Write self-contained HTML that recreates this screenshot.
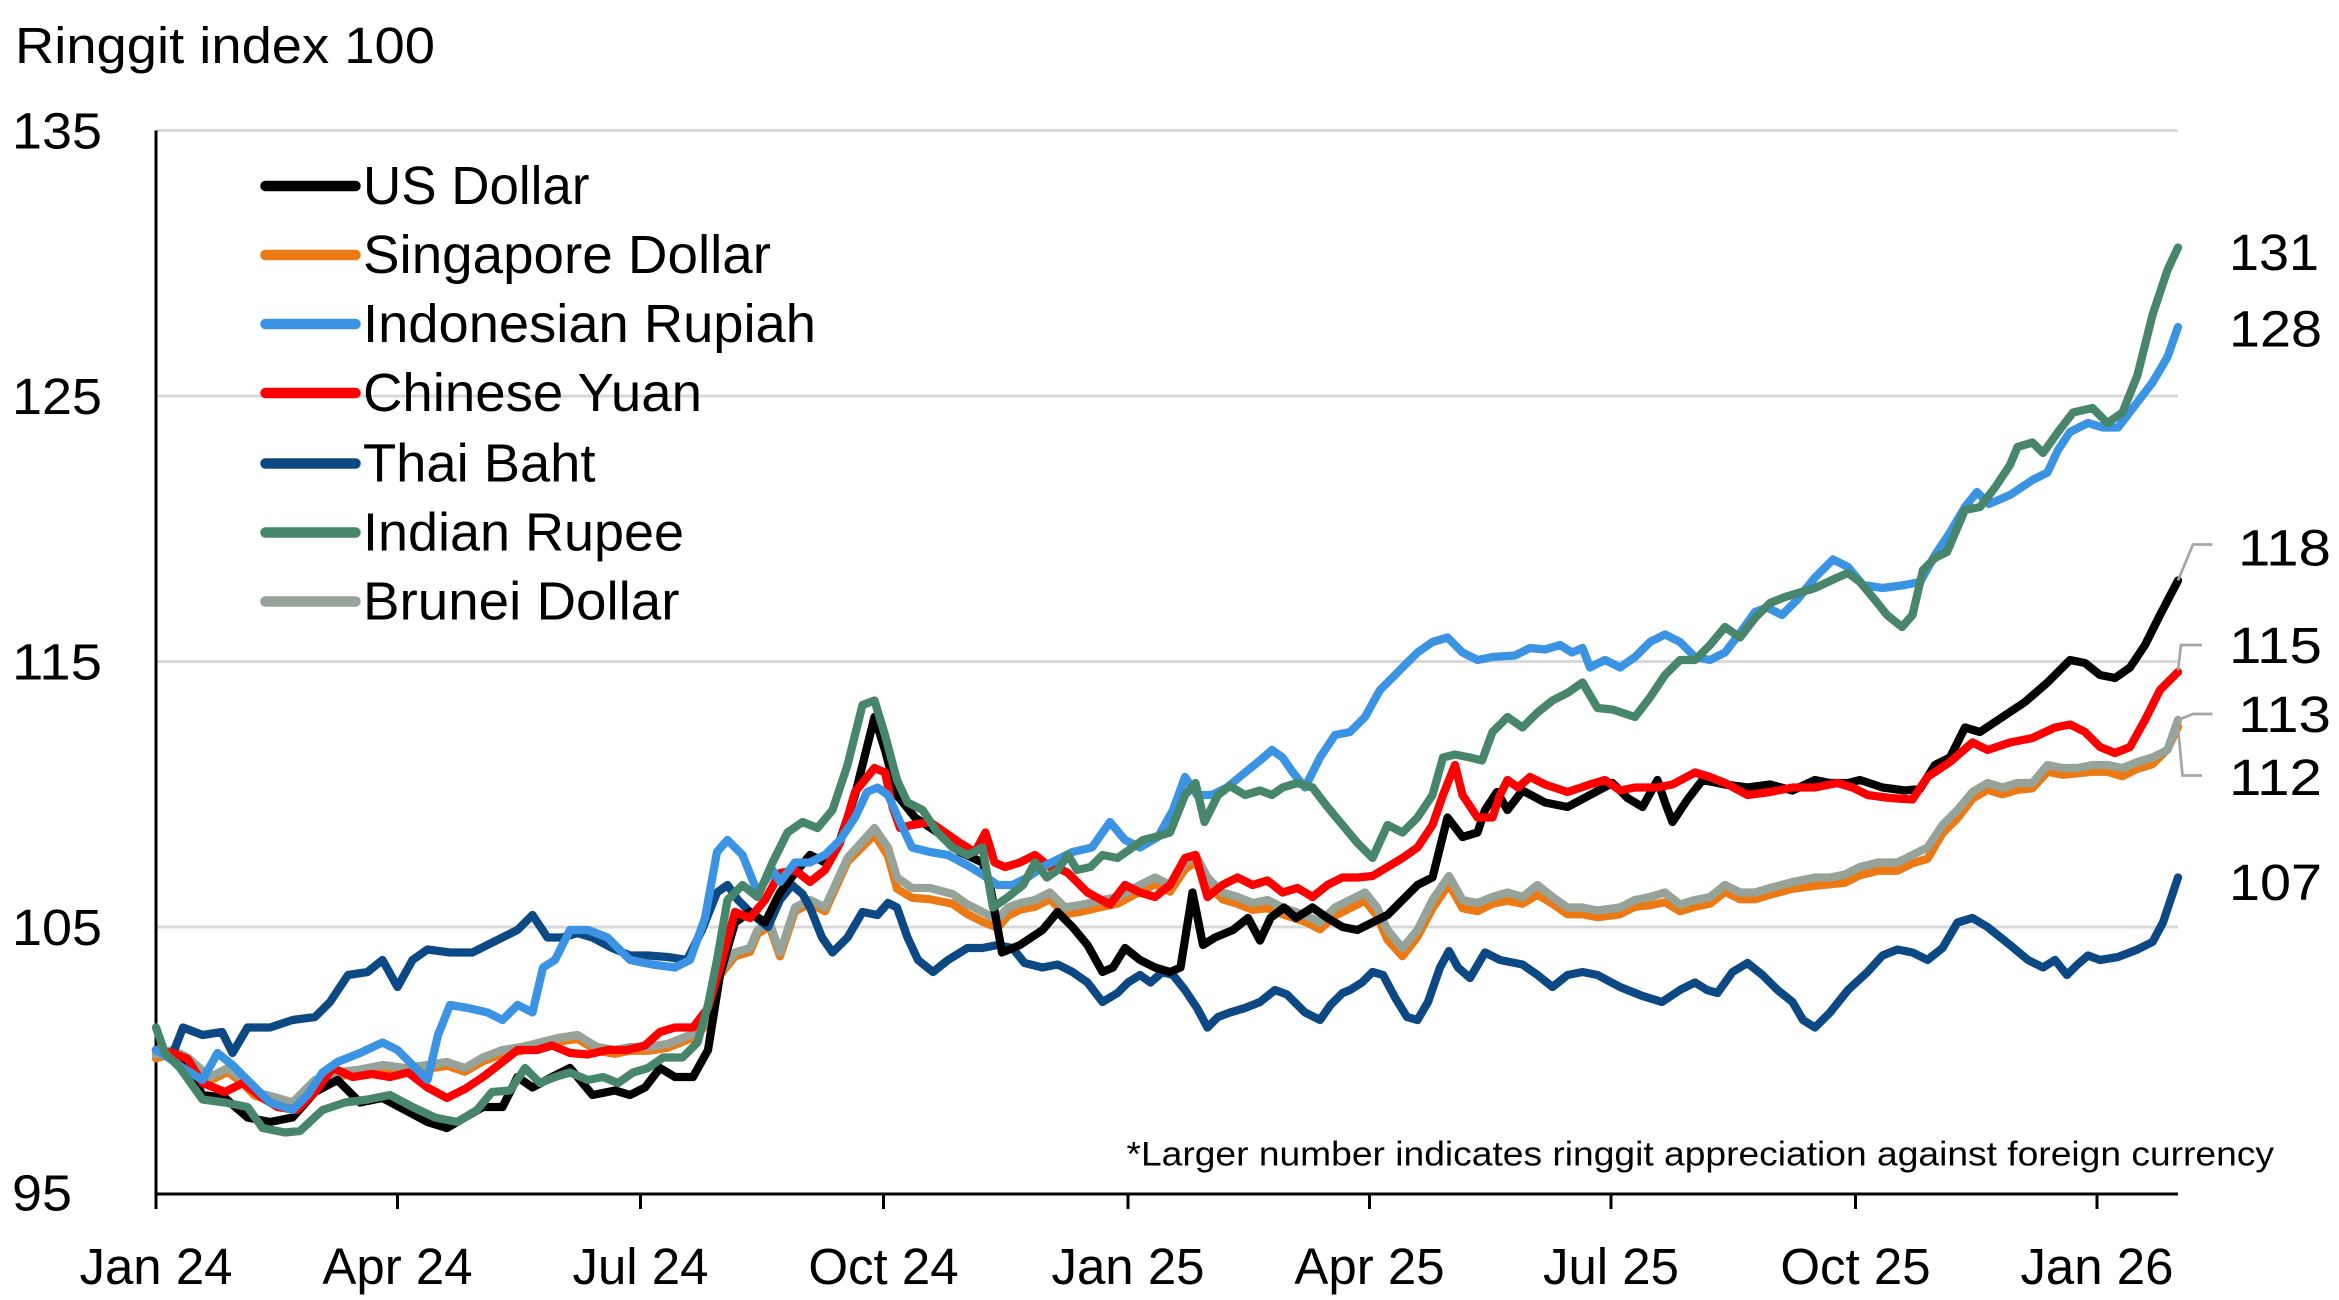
<!DOCTYPE html>
<html><head><meta charset="utf-8"><style>html,body{margin:0;padding:0;background:#fff}svg{display:block}</style></head>
<body>
<svg width="2339" height="1300" viewBox="0 0 1559.33 866.67" xmlns="http://www.w3.org/2000/svg" font-family="'Liberation Sans', sans-serif" fill="#000">
<rect width="1560" height="867" fill="#fff"/>
<g stroke="#d9d9d9" stroke-width="2">
<line x1="104" y1="87" x2="1452" y2="87"/><line x1="104" y1="264" x2="1452" y2="264"/><line x1="104" y1="441" x2="1452" y2="441"/><line x1="104" y1="618" x2="1452" y2="618"/>
</g>
<g stroke="#000" stroke-width="2">
<line x1="104" y1="87" x2="104" y2="796"/><line x1="104" y1="796" x2="1452" y2="796"/>
<line x1="104" y1="796" x2="104" y2="806"/><line x1="265" y1="796" x2="265" y2="806"/><line x1="427" y1="796" x2="427" y2="806"/><line x1="589" y1="796" x2="589" y2="806"/><line x1="752" y1="796" x2="752" y2="806"/><line x1="913" y1="796" x2="913" y2="806"/><line x1="1074" y1="796" x2="1074" y2="806"/><line x1="1237" y1="796" x2="1237" y2="806"/><line x1="1398" y1="796" x2="1398" y2="806"/>
</g>
<text x="10" y="42" font-size="34" textLength="280" lengthAdjust="spacingAndGlyphs">Ringgit index 100</text>
<g font-size="34">
<text x="8" y="99" textLength="60" lengthAdjust="spacingAndGlyphs">135</text>
<text x="8" y="276" textLength="60" lengthAdjust="spacingAndGlyphs">125</text>
<text x="8" y="453" textLength="60" lengthAdjust="spacingAndGlyphs">115</text>
<text x="8" y="630" textLength="60" lengthAdjust="spacingAndGlyphs">105</text>
<text x="8" y="807" textLength="40" lengthAdjust="spacingAndGlyphs">95</text>
</g>
<g font-size="34" text-anchor="middle">
<text x="104" y="856">Jan 24</text><text x="265" y="856">Apr 24</text><text x="427" y="856">Jul 24</text><text x="589" y="856">Oct 24</text><text x="752" y="856">Jan 25</text><text x="913" y="856">Apr 25</text><text x="1074" y="856">Jul 25</text><text x="1237" y="856">Oct 25</text><text x="1398" y="856">Jan 26</text>
</g>
<text x="1516" y="777" font-size="23" text-anchor="end" textLength="765" lengthAdjust="spacingAndGlyphs">*Larger number indicates ringgit appreciation against foreign currency</text>
<g fill="none" stroke-width="5.5" stroke-linejoin="round" stroke-linecap="round">
<polyline stroke="#ec7a14" transform="translate(0,2.5)" points="104,703 115,700 125,705 140,718 152,712 162,720 170,728 185,732 195,735 210,720 225,715 240,713 255,710 270,712 285,710 298,708 310,712 322,705 335,700 348,698 360,695 372,692 385,690 398,698 410,700 420,698 432,698 445,696 460,690 470,682 478,650 490,635 500,632 505,620 513,615 520,635 530,605 540,600 550,605 565,572 583,554 592,568 598,590 608,596 620,597 635,600 645,607 655,612 665,616 672,608 680,604 690,602 700,597 710,607 722,605 735,602 745,600 760,592 770,587 780,592 790,577 797,572 805,587 815,597 825,600 835,604 845,603 855,607 870,612 880,617 890,608 900,603 910,598 918,608 925,624 935,635 945,622 955,603 966,587 975,603 985,605 995,600 1005,598 1015,600 1025,594 1035,600 1045,607 1055,607 1065,609 1080,607 1090,602 1100,601 1110,599 1120,605 1130,602 1140,600 1150,592 1160,597 1170,597 1180,594 1195,590 1210,588 1220,587 1230,586 1240,581 1252,578 1265,578 1275,573 1285,570 1295,553 1305,543 1315,530 1325,524 1335,527 1345,524 1355,523 1365,512 1375,514 1385,513 1395,512 1405,512 1415,515 1425,510 1435,507 1445,497 1452,482"/>
<polyline stroke="#95a399" points="104,703 115,700 125,705 140,718 152,712 162,720 170,728 185,732 195,735 210,720 225,715 240,713 255,710 270,712 285,710 298,708 310,712 322,705 335,700 348,698 360,695 372,692 385,690 398,698 410,700 420,698 432,698 445,696 460,690 470,682 478,650 490,635 500,632 505,620 513,615 520,635 530,605 540,600 550,605 565,572 583,552 592,565 598,585 608,592 620,592 635,596 645,603 655,608 665,613 672,605 680,602 690,600 700,595 710,605 722,603 735,600 745,598 760,590 770,585 780,590 790,575 797,570 805,585 815,595 825,598 835,602 845,600 855,605 870,610 880,615 890,605 900,600 910,595 918,605 925,620 935,632 945,620 955,600 966,584 975,600 985,602 995,598 1005,595 1015,598 1025,590 1035,598 1045,605 1055,605 1065,607 1080,605 1090,600 1100,598 1110,595 1120,603 1130,600 1140,598 1150,590 1160,595 1170,595 1180,592 1195,588 1210,585 1220,585 1230,583 1240,578 1252,575 1265,575 1275,570 1285,565 1295,550 1305,540 1315,528 1325,522 1335,525 1345,522 1355,522 1365,510 1375,512 1385,512 1395,510 1405,510 1415,512 1425,508 1435,505 1445,500 1452,480"/>
<polyline stroke="#0b4884" points="104,700 115,703 122,685 135,690 148,688 155,702 165,685 180,685 195,680 210,678 220,668 232,650 245,648 255,640 265,658 275,640 285,633 300,635 315,635 325,630 335,625 345,620 355,610 365,625 375,625 385,622 395,625 408,632 420,637 432,637 445,638 458,640 468,620 478,595 485,590 492,600 502,610 512,618 520,600 528,590 535,596 540,605 548,625 555,635 565,625 575,608 585,610 592,602 598,605 605,625 612,640 622,648 632,640 645,632 655,632 665,630 675,632 683,642 695,645 705,643 715,648 725,655 735,668 745,662 752,655 760,650 767,655 775,648 782,650 790,660 798,672 805,685 812,678 820,675 830,672 840,668 850,660 858,663 865,670 870,675 880,680 887,670 895,662 900,660 908,655 915,648 922,650 930,665 938,678 945,680 952,668 960,645 966,634 972,645 980,652 990,635 1000,640 1015,643 1025,650 1035,658 1045,650 1055,648 1065,650 1080,658 1095,664 1108,668 1120,660 1130,655 1138,660 1145,662 1155,648 1165,642 1175,650 1185,660 1195,668 1202,680 1210,685 1220,675 1232,660 1245,648 1255,637 1265,633 1275,635 1285,640 1295,632 1305,615 1315,612 1325,618 1340,630 1352,640 1362,645 1370,640 1378,650 1385,643 1392,637 1400,640 1412,638 1425,633 1435,628 1442,615 1452,585"/>
<polyline stroke="#000" points="104,700 115,705 125,712 135,730 150,732 165,745 180,748 195,745 210,728 225,720 240,735 255,732 270,740 285,748 298,752 310,745 322,738 335,738 345,718 355,725 368,718 380,712 395,730 410,727 420,730 430,725 440,712 450,718 462,718 472,700 480,650 490,615 500,608 510,615 520,595 530,582 540,570 550,575 560,560 570,530 583,478 590,500 598,530 610,545 625,555 640,568 655,575 660,590 668,635 680,630 695,620 705,608 715,618 725,630 735,648 742,645 750,632 760,640 770,645 780,648 787,645 795,595 802,630 810,625 822,620 832,612 840,627 847,612 856,605 864,612 875,605 885,612 895,618 905,620 915,615 925,610 935,600 945,590 955,585 965,545 975,558 985,555 990,540 998,528 1005,540 1015,527 1030,535 1045,538 1060,530 1075,522 1085,532 1095,538 1105,520 1110,535 1115,548 1125,533 1135,520 1150,523 1165,525 1180,523 1195,527 1210,520 1220,522 1232,522 1240,520 1255,525 1270,527 1280,526 1290,510 1300,505 1310,485 1320,488 1335,478 1350,468 1365,455 1380,440 1390,442 1400,450 1410,452 1420,445 1430,430 1440,410 1452,387"/>
<polyline stroke="#ff0000" points="104,700 115,702 125,706 135,722 150,728 162,722 175,732 185,738 198,740 210,728 222,712 235,718 248,716 260,718 272,715 285,725 298,732 310,726 322,718 335,708 345,700 358,700 368,697 380,702 392,703 405,700 418,700 430,697 440,688 450,685 462,685 472,672 480,645 490,608 500,612 510,600 520,582 530,580 540,588 550,580 560,562 570,528 583,512 590,515 595,538 600,552 608,550 620,548 630,555 640,562 650,568 657,555 663,575 670,578 680,575 690,570 700,578 708,580 712,582 725,595 740,603 750,590 760,595 770,598 780,590 790,572 797,570 805,598 815,590 825,585 835,590 845,587 855,595 865,592 875,598 885,590 895,585 905,585 915,584 925,578 935,572 945,565 955,550 962,530 970,510 975,530 985,545 995,545 1000,530 1005,520 1012,525 1020,518 1030,523 1045,528 1060,523 1070,520 1080,527 1090,525 1105,525 1115,523 1130,515 1140,518 1150,522 1165,530 1180,528 1195,525 1210,525 1225,522 1235,525 1245,530 1260,532 1275,533 1285,518 1300,508 1315,495 1325,500 1340,495 1355,492 1370,485 1380,483 1390,488 1400,498 1410,502 1420,498 1430,480 1440,460 1452,448"/>
<polyline stroke="#3a93e3" points="104,700 112,705 122,712 135,720 145,702 155,710 165,720 180,735 195,740 205,730 215,715 225,708 240,702 255,695 265,700 275,710 285,720 292,690 300,670 312,672 325,675 335,680 345,670 355,675 362,645 370,640 380,620 392,620 405,625 420,640 435,643 450,645 460,640 470,612 478,568 485,560 495,570 505,595 515,580 520,588 530,575 540,575 550,570 560,560 570,545 578,528 585,525 592,530 600,548 608,565 620,568 632,570 645,577 655,583 665,590 675,590 685,585 695,578 705,573 715,568 728,565 740,548 750,560 760,565 772,558 782,540 790,518 798,530 808,530 818,525 830,515 840,507 848,500 855,505 862,515 870,525 880,505 890,490 900,488 910,478 920,460 932,448 945,435 955,428 965,425 975,435 985,440 995,438 1010,437 1020,432 1030,433 1040,430 1048,435 1055,432 1060,445 1070,440 1080,445 1090,438 1100,428 1110,423 1120,428 1130,438 1140,440 1150,435 1160,422 1170,408 1178,405 1188,410 1198,400 1210,385 1222,373 1232,378 1242,390 1255,392 1270,390 1280,388 1290,370 1300,355 1310,338 1318,328 1326,336 1340,330 1355,320 1365,315 1372,300 1380,288 1392,282 1402,285 1412,285 1422,272 1435,255 1445,238 1452,218"/>
<polyline stroke="#47866a" points="104,685 110,702 120,712 135,733 150,735 165,738 175,752 190,755 200,754 215,740 230,735 245,733 260,730 275,738 290,745 305,748 318,740 328,728 340,727 350,712 360,722 370,718 380,715 392,720 402,718 412,722 422,715 432,712 442,705 455,705 465,695 472,670 478,640 485,600 495,590 505,598 515,575 525,555 535,548 545,552 555,540 565,510 575,470 583,467 590,490 598,520 605,535 615,540 625,555 635,565 645,570 655,565 662,605 672,598 682,590 690,575 698,585 705,580 712,570 718,580 727,578 735,570 745,572 755,565 762,560 770,558 780,555 790,530 797,522 803,548 812,530 820,524 830,530 840,527 848,530 855,525 865,522 875,525 885,538 895,550 905,562 915,572 925,550 935,555 945,545 955,530 962,505 970,503 980,505 988,507 995,488 1005,478 1015,485 1025,475 1035,467 1045,462 1055,455 1065,472 1075,473 1090,478 1100,465 1110,450 1120,440 1130,440 1140,430 1150,418 1160,425 1170,412 1180,402 1190,398 1200,395 1210,392 1225,385 1232,382 1240,388 1250,400 1258,410 1268,418 1275,410 1282,380 1290,372 1298,368 1310,340 1320,338 1330,325 1340,310 1345,298 1355,295 1362,302 1372,288 1382,275 1395,272 1405,282 1415,275 1425,250 1435,210 1445,180 1452,165"/>
</g>
<g fill="none" stroke="#a6a6a6" stroke-width="1.8">
<polyline points="1452,387 1462,363 1475,363"/>
<polyline points="1452,447 1454,430 1468,430"/>
<polyline points="1452,480 1462,476 1475,476"/>
<polyline points="1452,485 1455,517 1468,517"/>
</g>
<g font-size="34">
<text x="1486" y="180" textLength="60" lengthAdjust="spacingAndGlyphs">131</text>
<text x="1486" y="231" textLength="62" lengthAdjust="spacingAndGlyphs">128</text>
<text x="1492" y="377" textLength="62" lengthAdjust="spacingAndGlyphs">118</text>
<text x="1486" y="442" textLength="62" lengthAdjust="spacingAndGlyphs">115</text>
<text x="1492" y="488" textLength="62" lengthAdjust="spacingAndGlyphs">113</text>
<text x="1486" y="530" textLength="62" lengthAdjust="spacingAndGlyphs">112</text>
<text x="1486" y="600" textLength="62" lengthAdjust="spacingAndGlyphs">107</text>
</g>
<g stroke-width="7" stroke-linecap="round">
<line x1="177" y1="124" x2="237" y2="124" stroke="#000"/>
<line x1="177" y1="170" x2="237" y2="170" stroke="#ec7a14"/>
<line x1="177" y1="216" x2="237" y2="216" stroke="#3a93e3"/>
<line x1="177" y1="262" x2="237" y2="262" stroke="#ff0000"/>
<line x1="177" y1="309" x2="237" y2="309" stroke="#0b4884"/>
<line x1="177" y1="355" x2="237" y2="355" stroke="#47866a"/>
<line x1="177" y1="401" x2="237" y2="401" stroke="#95a399"/>
</g>
<g font-size="36">
<text x="242" y="136" textLength="151" lengthAdjust="spacingAndGlyphs">US Dollar</text>
<text x="242" y="182" textLength="272" lengthAdjust="spacingAndGlyphs">Singapore Dollar</text>
<text x="242" y="228" textLength="302" lengthAdjust="spacingAndGlyphs">Indonesian Rupiah</text>
<text x="242" y="274" textLength="226" lengthAdjust="spacingAndGlyphs">Chinese Yuan</text>
<text x="242" y="321" textLength="155" lengthAdjust="spacingAndGlyphs">Thai Baht</text>
<text x="242" y="367" textLength="214" lengthAdjust="spacingAndGlyphs">Indian Rupee</text>
<text x="242" y="413" textLength="211" lengthAdjust="spacingAndGlyphs">Brunei Dollar</text>
</g>
</svg>
</body></html>
